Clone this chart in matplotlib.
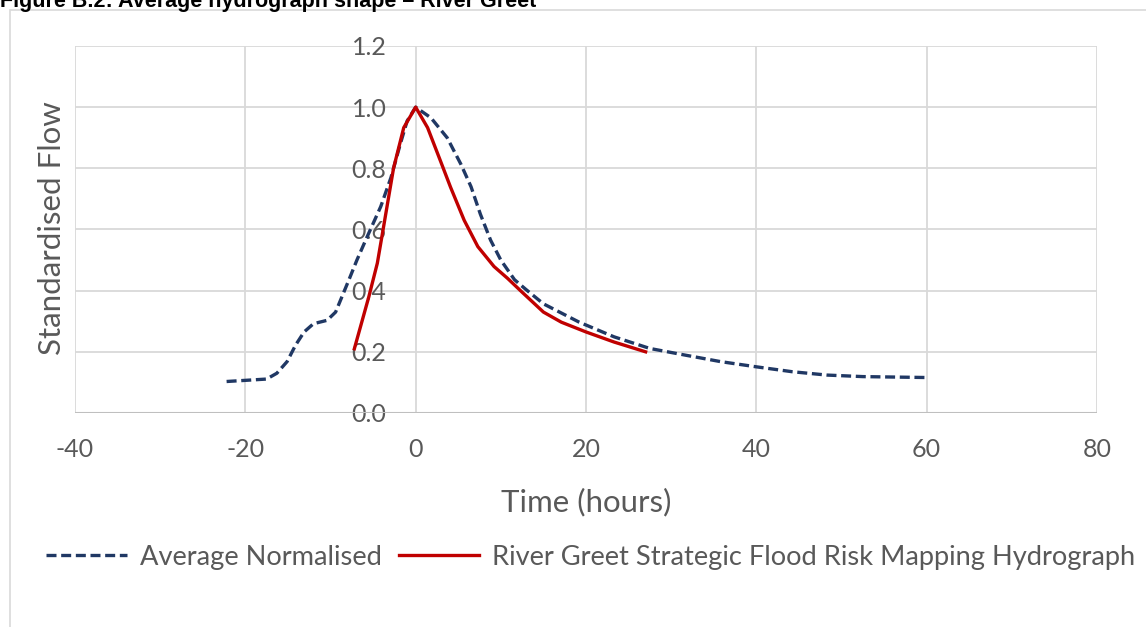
import numpy as np
import matplotlib
matplotlib.use("Agg")
import matplotlib.pyplot as plt
from matplotlib.patches import Rectangle

# data
avg_t = [-22.2, -17.5, -16.3, -15.1, -14.1, -13.1, -12.0, -10.4, -9.4, -8.6, -7.8, -6.9,
         -5.7, -4.1, -2.9, -1.8, -1.0, 0.0, 1.8, 3.7, 5.3, 6.5, 7.6, 8.8, 10.0, 11.6,
         12.9, 15.0, 19.2, 23.3, 27.5, 31.7, 35.8, 40.0, 44.2, 48.3, 52.5, 60.0]
avg_q = [0.103, 0.111, 0.13, 0.168, 0.222, 0.265, 0.292, 0.303, 0.33, 0.384, 0.438, 0.50,
         0.576, 0.675, 0.77, 0.88, 0.955, 1.0, 0.965, 0.90, 0.814, 0.74, 0.65, 0.565, 0.50,
         0.436, 0.405, 0.357, 0.297, 0.249, 0.211, 0.189, 0.168, 0.151, 0.135, 0.124,
         0.119, 0.116]

sfrm_t = [-7.2, -6.3, -5.5, -4.5, -3.7, -2.6, -1.4, 0.0, 1.4, 2.9, 4.1, 5.7, 7.3, 9.2,
          10.8, 12.5, 15.0, 17.1, 20.0, 23.3, 27.0]
sfrm_q = [0.21, 0.30, 0.38, 0.49, 0.62, 0.80, 0.933, 1.0, 0.933, 0.825, 0.738, 0.63,
          0.544, 0.479, 0.44, 0.395, 0.33, 0.297, 0.265, 0.232, 0.20]

xticks = [-40, -20, 0, 20, 40, 60, 80]
yticks = [0.0, 0.2, 0.4, 0.6, 0.8, 1.0, 1.2]

plt.rcParams['font.family'] = ['Lato', 'DejaVu Sans']
plt.rcParams['axes.unicode_minus'] = False
grey = '#595959'

fig = plt.figure(figsize=(11.46, 6.27), dpi=100)
ax = fig.add_axes([75/1146, 1-413/627, (1097-75)/1146, (413-46)/627])

ax.plot(avg_t, avg_q, color='#203864', lw=2.4, dashes=(3, 1.4), label='Average Normalised')
ax.plot(sfrm_t, sfrm_q, color='#C00000', lw=2.4,
        label='River Greet Strategic Flood Risk Mapping Hydrograph')

ax.set_xlim(-40, 80)
ax.set_ylim(0, 1.2)
ax.set_xticks(xticks)
ax.set_yticks(yticks)
ax.set_yticklabels(['%.1f' % v for v in yticks])
ax.grid(True, color='#d9d9d9', lw=1.3)
ax.set_axisbelow(True)
for s in ['top', 'right', 'bottom']:
    ax.spines[s].set_visible(False)
ax.spines['left'].set_position(('data', 0))
ax.spines['left'].set_visible(False)
ax.axhline(0, color='#bfbfbf', lw=1.5, zorder=1)
ax.tick_params(axis='both', length=0, labelsize=18, colors=grey)
ax.tick_params(axis='x', pad=18)
ax.tick_params(axis='y', pad=21)

fig.text(586/1146, 1-502/627, 'Time (hours)', ha='center', va='center', fontsize=22.5, color=grey)
fig.text(52/1146, 1-228/627, 'Standardised Flow', ha='center', va='center', rotation=90,
         fontsize=22.5, color=grey)

leg = fig.legend(loc='center', bbox_to_anchor=(591/1146, 1-557/627), ncol=2, frameon=False,
                 fontsize=19.6, handlelength=2.95, handletextpad=0.5, columnspacing=0.6,
                 labelcolor=grey)

# chart border and clipped caption
fig.patches.append(Rectangle((10/1146, -0.1), 1.2, 1 - 10/627 + 0.1, transform=fig.transFigure,
                             fill=False, edgecolor='#d9d9d9', lw=1.2))
fig.text(0.0, 1-7/627, 'Figure B.2: Average hydrograph shape \u2013 River Greet', ha='left',
         va='baseline', fontsize=15.5, fontweight='bold', family='Liberation Sans', color='black')

plt.savefig('out.png', dpi=100)
